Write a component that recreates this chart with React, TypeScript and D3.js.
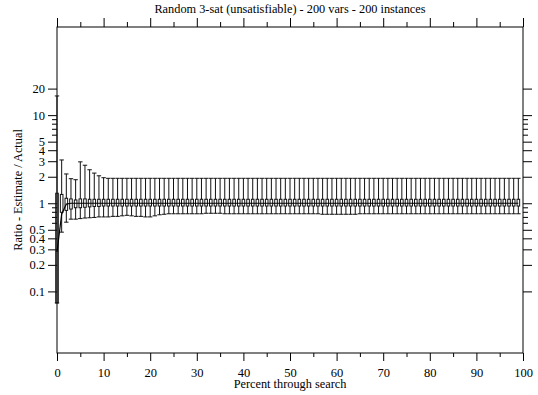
import React, { useEffect, useRef } from 'react';
import * as d3 from 'd3';

// box/whisker summary per percent of search (index = percent, 0..99)
const whiskerHi = [
  16.5, 3.1, 2.15, 1.9, 1.85, 2.95, 2.7, 2.4, 2.2, 2.05,
  1.95, 1.92, 1.92, 1.92, 1.92, 1.92, 1.92, 1.92, 1.92, 1.92,
  1.92, 1.92, 1.92, 1.92, 1.92, 1.92, 1.92, 1.92, 1.92, 1.92,
  1.92, 1.92, 1.92, 1.92, 1.92, 1.92, 1.92, 1.92, 1.92, 1.92,
  1.92, 1.92, 1.92, 1.92, 1.92, 1.92, 1.92, 1.92, 1.92, 1.92,
  1.92, 1.92, 1.92, 1.92, 1.92, 1.92, 1.92, 1.92, 1.92, 1.92,
  1.92, 1.92, 1.92, 1.92, 1.92, 1.92, 1.92, 1.92, 1.92, 1.92,
  1.92, 1.92, 1.92, 1.92, 1.92, 1.92, 1.92, 1.92, 1.92, 1.92,
  1.92, 1.92, 1.92, 1.92, 1.92, 1.92, 1.92, 1.92, 1.92, 1.92,
  1.92, 1.92, 1.92, 1.92, 1.92, 1.92, 1.92, 1.92, 1.92, 1.92,
];

const boxHi = [
  1.3, 1.26, 1.14, 1.12, 1.09, 1.12, 1.12, 1.11, 1.11, 1.11,
  1.11, 1.11, 1.11, 1.11, 1.11, 1.11, 1.11, 1.11, 1.11, 1.11,
  1.11, 1.11, 1.11, 1.11, 1.11, 1.11, 1.11, 1.11, 1.11, 1.11,
  1.11, 1.11, 1.11, 1.11, 1.11, 1.11, 1.11, 1.11, 1.11, 1.11,
  1.11, 1.11, 1.11, 1.11, 1.11, 1.11, 1.11, 1.11, 1.11, 1.11,
  1.11, 1.11, 1.11, 1.11, 1.11, 1.11, 1.11, 1.11, 1.11, 1.11,
  1.11, 1.11, 1.11, 1.11, 1.11, 1.11, 1.11, 1.11, 1.11, 1.11,
  1.11, 1.11, 1.11, 1.11, 1.11, 1.11, 1.11, 1.11, 1.11, 1.11,
  1.11, 1.11, 1.11, 1.11, 1.11, 1.11, 1.11, 1.11, 1.11, 1.11,
  1.11, 1.11, 1.11, 1.11, 1.11, 1.11, 1.11, 1.11, 1.11, 1.11,
];

const boxLo = [
  0.074, 0.79, 0.83, 0.86, 0.89, 0.89, 0.9, 0.91, 0.92, 0.92,
  0.93, 0.93, 0.93, 0.93, 0.93, 0.93, 0.93, 0.93, 0.93, 0.93,
  0.93, 0.93, 0.93, 0.93, 0.93, 0.93, 0.93, 0.93, 0.93, 0.93,
  0.93, 0.93, 0.93, 0.93, 0.93, 0.93, 0.93, 0.93, 0.93, 0.93,
  0.93, 0.93, 0.93, 0.93, 0.93, 0.93, 0.93, 0.93, 0.93, 0.93,
  0.93, 0.93, 0.93, 0.93, 0.93, 0.93, 0.93, 0.93, 0.93, 0.93,
  0.93, 0.93, 0.93, 0.93, 0.93, 0.93, 0.93, 0.93, 0.93, 0.93,
  0.93, 0.93, 0.93, 0.93, 0.93, 0.93, 0.93, 0.93, 0.93, 0.93,
  0.93, 0.93, 0.93, 0.93, 0.93, 0.93, 0.93, 0.93, 0.93, 0.93,
  0.93, 0.93, 0.93, 0.93, 0.93, 0.93, 0.93, 0.93, 0.93, 0.93,
];

const whiskerLo = [
  0.074, 0.47, 0.61, 0.66, 0.66, 0.67, 0.68, 0.685, 0.69, 0.7,
  0.7, 0.7, 0.71, 0.71, 0.72, 0.73, 0.72, 0.71, 0.71, 0.7,
  0.7, 0.72, 0.74, 0.75, 0.76, 0.76, 0.76, 0.76, 0.76, 0.76,
  0.76, 0.76, 0.77, 0.77, 0.77, 0.77, 0.76, 0.76, 0.76, 0.76,
  0.76, 0.76, 0.76, 0.76, 0.76, 0.76, 0.76, 0.76, 0.76, 0.76,
  0.76, 0.76, 0.76, 0.76, 0.76, 0.76, 0.76, 0.75, 0.75, 0.75,
  0.75, 0.75, 0.75, 0.75, 0.75, 0.76, 0.76, 0.76, 0.76, 0.76,
  0.76, 0.76, 0.76, 0.76, 0.76, 0.76, 0.76, 0.76, 0.76, 0.76,
  0.76, 0.76, 0.76, 0.76, 0.76, 0.76, 0.76, 0.76, 0.76, 0.76,
  0.76, 0.76, 0.76, 0.76, 0.76, 0.76, 0.76, 0.76, 0.76, 0.76,
];

// centre line joining the boxes
const centre = [
  0.28, 0.75, 0.98, 1, 1, 1, 1, 1, 1, 1,
  1, 1, 1, 1, 1, 1, 1, 1, 1, 1,
  1, 1, 1, 1, 1, 1, 1, 1, 1, 1,
  1, 1, 1, 1, 1, 1, 1, 1, 1, 1,
  1, 1, 1, 1, 1, 1, 1, 1, 1, 1,
  1, 1, 1, 1, 1, 1, 1, 1, 1, 1,
  1, 1, 1, 1, 1, 1, 1, 1, 1, 1,
  1, 1, 1, 1, 1, 1, 1, 1, 1, 1,
  1, 1, 1, 1, 1, 1, 1, 1, 1, 1,
  1, 1, 1, 1, 1, 1, 1, 1, 1, 1,
];

const xMajor = [0, 10, 20, 30, 40, 50, 60, 70, 80, 90, 100];
const xMinor = [5, 15, 25, 35, 45, 55, 65, 75, 85, 95];
const yMajor = [0.1, 0.2, 0.3, 0.4, 0.5, 1, 2, 3, 4, 5, 10, 20];
const yMinor = [0.6, 0.7, 0.8, 0.9, 6, 7, 8, 9];

const FONT = "'Liberation Serif', 'DejaVu Serif', serif";

const App = () => {
  const svgRef = useRef<SVGSVGElement>(null);

  useEffect(() => {
    const W = 538;
    const H = 395;
    const left = 57, right = 523, top = 27, bottom = 353;

    const root = d3.select(svgRef.current);
    root.selectAll('*').remove();
    const svg = root.attr('width', W).attr('height', H).style('font-family', FONT);

    svg.append('rect').attr('width', W).attr('height', H).attr('fill', '#fff');

    const xScale = d3.scaleLinear().domain([0, 100]).range([left, right]);
    const yScale = d3.scaleLog().domain([0.02, 100]).range([bottom, top]);

    const styleAxis = (g: any) => {
      g.select('.domain').remove();
      g.attr('font-family', null).attr('font-size', null);
      g.style('font-family', FONT).style('font-size', '12.5px');
      g.selectAll('line').attr('stroke', '#000');
      g.selectAll('text').attr('fill', '#000');
    };

    // bottom
    svg.append('g').attr('transform', `translate(0,${bottom})`)
      .call(d3.axisBottom(xScale).tickValues(xMajor).tickSize(8).tickPadding(7).tickFormat((d: any) => String(d)))
      .call(styleAxis);
    svg.append('g').attr('transform', `translate(0,${bottom})`)
      .call(d3.axisBottom(xScale).tickValues(xMinor).tickSize(4).tickFormat(() => ''))
      .call(styleAxis);
    // top
    svg.append('g').attr('transform', `translate(0,${top})`)
      .call(d3.axisTop(xScale).tickValues(xMajor).tickSize(9).tickFormat(() => ''))
      .call(styleAxis);
    svg.append('g').attr('transform', `translate(0,${top})`)
      .call(d3.axisTop(xScale).tickValues(xMinor).tickSize(5).tickFormat(() => ''))
      .call(styleAxis);
    // left
    svg.append('g').attr('transform', `translate(${left},0)`)
      .call(d3.axisLeft(yScale).tickValues(yMajor).tickSize(9).tickPadding(3).tickFormat((d: any) => String(d)))
      .call(styleAxis);
    svg.append('g').attr('transform', `translate(${left},0)`)
      .call(d3.axisLeft(yScale).tickValues(yMinor).tickSize(5).tickFormat(() => ''))
      .call(styleAxis);
    // right
    svg.append('g').attr('transform', `translate(${right},0)`)
      .call(d3.axisRight(yScale).tickValues(yMajor).tickSize(9).tickFormat(() => ''))
      .call(styleAxis);
    svg.append('g').attr('transform', `translate(${right},0)`)
      .call(d3.axisRight(yScale).tickValues(yMinor).tickSize(5).tickFormat(() => ''))
      .call(styleAxis);

    // frame
    svg.append('rect')
      .attr('x', left).attr('y', top)
      .attr('width', right - left).attr('height', bottom - top)
      .attr('fill', 'none').attr('stroke', '#000').attr('stroke-width', 1);

    // whiskers + boxes
    const idx = d3.range(whiskerHi.length);
    const capW = 2.2;
    const boxW = 1.3;
    const bars = svg.append('g').attr('stroke', '#111').attr('stroke-width', 1);

    bars.selectAll('.whisker').data(idx).enter().append('line')
      .attr('x1', (i) => xScale(i)).attr('x2', (i) => xScale(i))
      .attr('y1', (i) => yScale(whiskerLo[i])).attr('y2', (i) => yScale(whiskerHi[i]));
    bars.selectAll('.capHi').data(idx).enter().append('line')
      .attr('x1', (i) => xScale(i) - capW).attr('x2', (i) => xScale(i) + capW)
      .attr('y1', (i) => yScale(whiskerHi[i])).attr('y2', (i) => yScale(whiskerHi[i]));
    bars.selectAll('.capLo').data(idx).enter().append('line')
      .attr('x1', (i) => xScale(i) - capW).attr('x2', (i) => xScale(i) + capW)
      .attr('y1', (i) => yScale(whiskerLo[i])).attr('y2', (i) => yScale(whiskerLo[i]));
    bars.selectAll('.box').data(idx).enter().append('rect')
      .attr('x', (i) => xScale(i) - boxW)
      .attr('width', boxW * 2)
      .attr('y', (i) => yScale(boxHi[i]))
      .attr('height', (i) => yScale(boxLo[i]) - yScale(boxHi[i]))
      .attr('fill', (i) => (i === 0 ? 'none' : '#fff'));

    const line = d3.line<number>().x((i) => xScale(i)).y((i) => yScale(centre[i]));
    svg.append('path').datum(idx).attr('d', line)
      .attr('fill', 'none').attr('stroke', '#000').attr('stroke-width', 1.2);

    // titles
    const label = (x: number, y: number, s: string, rot = false) =>
      svg.append('text')
        .attr('transform', rot ? `translate(${x},${y}) rotate(-90)` : `translate(${x},${y})`)
        .attr('text-anchor', 'middle')
        .style('font-family', FONT).style('font-size', '12.3px')
        .text(s);

    label((left + right) / 2, 13, 'Random 3-sat (unsatisfiable) - 200 vars - 200 instances');
    label((left + right) / 2, 388, 'Percent through search');
    label(22, (top + bottom) / 2, 'Ratio - Estimate / Actual', true);
  }, []);

  return (
    <svg ref={svgRef} style={{ position: 'absolute', left: 0, top: 0, display: 'block' }}></svg>
  );
};

export default App;
